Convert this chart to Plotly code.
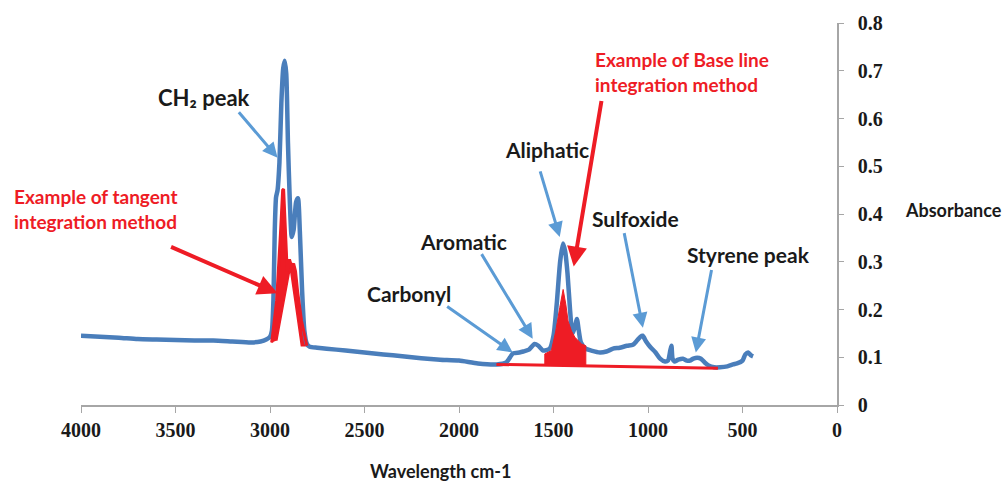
import plotly.graph_objects as go

# FTIR absorbance spectrum (wavenumber in cm-1, absorbance)
wavenumber = [4000, 3900, 3800, 3700, 3600, 3500, 3400, 3300, 3200, 3100, 3050, 3020,
              3000, 2990, 2982, 2975, 2968, 2960, 2950, 2940, 2930, 2922, 2914, 2905,
              2895, 2885, 2875, 2862, 2852, 2842, 2830, 2818, 2805, 2790, 2750, 2700,
              2600, 2500, 2400, 2300, 2200, 2100, 2000, 1900, 1800, 1750, 1714, 1680,
              1660, 1630, 1600, 1580, 1555, 1520, 1500, 1483, 1465, 1450, 1438, 1426,
              1412, 1400, 1388, 1376, 1366, 1355, 1330, 1300, 1254, 1220, 1185, 1150,
              1111, 1080, 1058, 1040, 1028, 1010, 989, 960, 936, 910, 894, 882, 876,
              870, 860, 840, 815, 795, 778, 760, 740, 720, 700, 680, 650, 619, 580,
              550, 529, 500, 485, 470, 455, 444]
absorbance = [0.145, 0.143, 0.141, 0.138, 0.137, 0.136, 0.135, 0.135, 0.133, 0.131, 0.133, 0.137,
              0.143, 0.155, 0.218, 0.363, 0.435, 0.450, 0.508, 0.632, 0.705, 0.721, 0.694, 0.549,
              0.425, 0.352, 0.367, 0.425, 0.433, 0.363, 0.238, 0.155, 0.128, 0.122, 0.120, 0.118,
              0.114, 0.110, 0.106, 0.102, 0.098, 0.095, 0.093, 0.087, 0.085, 0.089, 0.108, 0.110,
              0.112, 0.116, 0.128, 0.124, 0.114, 0.118, 0.145, 0.211, 0.300, 0.338, 0.321, 0.276,
              0.197, 0.149, 0.162, 0.180, 0.155, 0.131, 0.118, 0.114, 0.110, 0.112, 0.118, 0.120,
              0.124, 0.126, 0.135, 0.143, 0.145, 0.133, 0.122, 0.110, 0.097, 0.091, 0.093, 0.114, 0.124,
              0.097, 0.091, 0.095, 0.097, 0.093, 0.093, 0.097, 0.099, 0.097, 0.089, 0.083, 0.079, 0.079, 0.081,
              0.085, 0.087, 0.093, 0.106, 0.110, 0.104, 0.102]

# Tangent integration area under the CH2 doublet
tangent_wn = [2991, 2965, 2944, 2933, 2928, 2920, 2909, 2897, 2886, 2875, 2865, 2854, 2833,
              2805, 2834, 2893, 2964]
tangent_abs = [0.131, 0.218, 0.363, 0.450, 0.452, 0.363, 0.280, 0.305, 0.290, 0.296, 0.280, 0.238, 0.176,
               0.124, 0.124, 0.287, 0.135]

# Base line integration: base line and the area of the aliphatic band
baseline_wn = [1802, 630]
baseline_abs = [0.085, 0.077]
base_area_wn = [1546, 1546, 1511, 1488, 1467, 1449, 1435, 1423, 1405, 1387, 1370, 1352, 1329, 1329]
base_area_abs = [0.083, 0.107, 0.114, 0.155, 0.204, 0.242, 0.211, 0.176, 0.155, 0.142, 0.135, 0.128, 0.124, 0.082]

# Peak labels: text, label position, arrow head position, arrow tail offset (px)
peak_labels = ["CH\u2082 peak", "Aliphatic", "Sulfoxide", "Styrene peak", "Aromatic", "Carbonyl"]
label_wn = [3350, 1536, 1064, 466, 1975, 2266]
label_abs = [0.643, 0.535, 0.390, 0.315, 0.342, 0.234]
label_size = [22, 21, 21, 21, 21, 21]
head_wn = [2960, 1467, 1027, 747, 1610, 1716]
head_abs = [0.518, 0.352, 0.162, 0.110, 0.139, 0.110]
tail_dx = [-40, -20, -19, 16, -52, -67]
tail_dy = [-47, -67, -96, -84, -86, -47]

x_ticks = [4000, 3500, 3000, 2500, 2000, 1500, 1000, 500, 0]
y_ticks = [0, 0.1, 0.2, 0.3, 0.4, 0.5, 0.6, 0.7, 0.8]

BLUE = "#4a7ebb"
ARROW_BLUE = "#5b9bd5"
RED = "#ee1c25"
LABEL_FONT = "Lato"

fig = go.Figure()

fig.add_trace(go.Scatter(
    x=tangent_wn, y=tangent_abs, mode="lines", fill="toself",
    fillcolor=RED, line=dict(color=RED, width=1.5), hoverinfo="skip"))
fig.add_trace(go.Scatter(
    x=wavenumber, y=absorbance, mode="lines",
    line=dict(color=BLUE, width=4.5, shape="spline", smoothing=0.6)))
fig.add_trace(go.Scatter(
    x=tangent_wn[:14], y=tangent_abs[:14], mode="lines",
    line=dict(color=RED, width=3), hoverinfo="skip"))
fig.add_trace(go.Scatter(
    x=baseline_wn, y=baseline_abs, mode="lines",
    line=dict(color=RED, width=3), hoverinfo="skip"))
fig.add_trace(go.Scatter(
    x=base_area_wn, y=base_area_abs, mode="lines", fill="toself",
    fillcolor=RED, line=dict(color=RED, width=1), hoverinfo="skip"))

annotations = []
for txt, lx, ly, fs, hx, hy, dx, dy in zip(peak_labels, label_wn, label_abs, label_size,
                                           head_wn, head_abs, tail_dx, tail_dy):
    annotations.append(dict(
        x=lx, y=ly, xref="x", yref="y", text=txt, showarrow=False,
        font=dict(family=LABEL_FONT, size=fs, color="#1a1a1a", weight="bold")))
    annotations.append(dict(
        x=hx, y=hy, xref="x", yref="y", ax=dx, ay=dy, text="",
        showarrow=True, arrowhead=2, arrowsize=1.0, arrowwidth=3,
        arrowcolor=ARROW_BLUE, standoff=0))

# red method callouts
annotations += [
    dict(x=-0.091, y=0.513, xref="paper", yref="paper", xanchor="left", yanchor="middle",
         align="left", text="Example of tangent<br>integration method", showarrow=False,
         font=dict(family=LABEL_FONT, size=19, color=RED, weight="bold")),
    dict(x=2960, y=0.234, xref="x", yref="y", ax=-108, ay=-47, text="",
         showarrow=True, arrowhead=2, arrowsize=1.0, arrowwidth=4,
         arrowcolor=RED, standoff=0),
    dict(x=0.677, y=0.873, xref="paper", yref="paper", xanchor="left", yanchor="middle",
         align="left", text="Example of Base line<br>integration method", showarrow=False,
         font=dict(family=LABEL_FONT, size=19, color=RED, weight="bold")),
    dict(x=1393, y=0.29, xref="x", yref="y", ax=28, ay=-167, text="",
         showarrow=True, arrowhead=2, arrowsize=1.0, arrowwidth=4,
         arrowcolor=RED, standoff=0),
    dict(x=1.087, y=0.51, xref="paper", yref="paper", xanchor="left", yanchor="middle",
         text="Absorbance", showarrow=False,
         font=dict(family=LABEL_FONT, size=18, color="#1a1a1a", weight="bold")),
    dict(x=0.475, y=-0.174, xref="paper", yref="paper", xanchor="center", yanchor="middle",
         text="Wavelength cm-1", showarrow=False,
         font=dict(family=LABEL_FONT, size=18, color="#1a1a1a", weight="bold")),
]

tick_font = dict(family="Liberation Serif", size=20, color="#1a1a1a", weight="bold")

fig.update_layout(
    width=1003, height=483,
    margin=dict(l=81, r=166, t=19, b=78),
    paper_bgcolor="white", plot_bgcolor="white",
    showlegend=False,
    annotations=annotations,
    xaxis=dict(range=[4000, 0], tickvals=x_ticks, ticktext=[str(v) for v in x_ticks],
               showgrid=False, zeroline=False, showline=True, linecolor="#a6a6a6",
               linewidth=1.5, ticks="outside", ticklen=6, tickcolor="#a6a6a6",
               tickfont=tick_font),
    yaxis=dict(range=[0, 0.8], side="right", tickvals=y_ticks,
               ticktext=["0" if v == 0 else f"{v:.1f}" for v in y_ticks],
               showgrid=False, zeroline=False, showline=True, linecolor="#a6a6a6",
               linewidth=1.5, ticks="outside", ticklen=5, tickcolor="#a6a6a6",
               ticklabelstandoff=10, tickfont=tick_font),
)

fig.write_html("out.html")
